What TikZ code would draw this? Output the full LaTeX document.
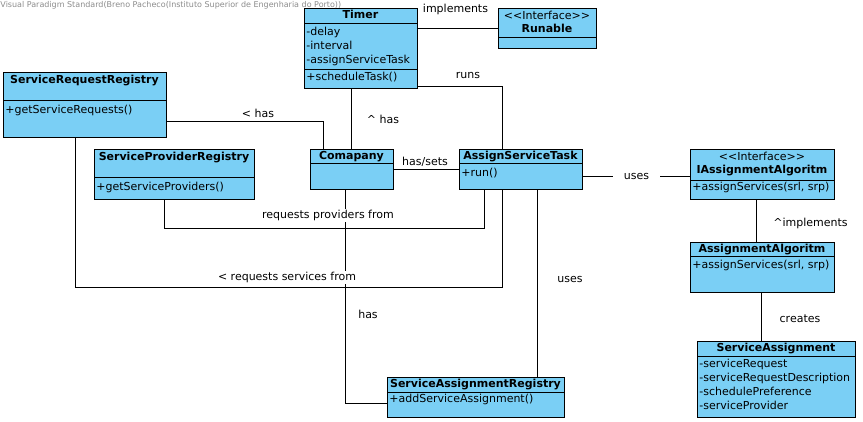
\documentclass[tikz,border=0pt]{standalone}
\usepackage{fontspec}
\setmainfont{DejaVu Sans}
\usepackage{tikz}

\definecolor{classblue}{HTML}{7ACFF5}

\tikzset{
  umlclass/.style={draw, fill=classblue, inner sep=0pt, anchor=north west, line width=0.9pt},
  cname/.style={font=\fontsize{11}{13}\selectfont\bfseries, inner sep=0pt, text height=8pt, text depth=2.5pt},
  member/.style={font=\fontsize{11}{13}\selectfont, inner sep=0pt, anchor=west, text height=8pt, text depth=2.5pt},
  stereo/.style={font=\fontsize{11}{13}\selectfont, inner sep=0pt, text height=8pt, text depth=2.5pt},
  lbl/.style={font=\fontsize{11}{13}\selectfont, inner sep=1pt, text height=8pt, text depth=2.5pt},
}

\begin{document}
\begin{tikzpicture}[x=1pt, y=-1pt, line width=0.9pt]
\useasboundingbox (0,0) rectangle (863,421);

% classes
\node[umlclass, minimum width=113pt, minimum height=80pt] (timer) at (304,8) {};
\node[umlclass, minimum width=98pt, minimum height=40pt] (runable) at (498,8) {};
\node[umlclass, minimum width=163pt, minimum height=65pt] (srr) at (3,72) {};
\node[umlclass, minimum width=160pt, minimum height=50pt] (spr) at (94,149) {};
\node[umlclass, minimum width=83pt, minimum height=40pt] (comp) at (310,149) {};
\node[umlclass, minimum width=123pt, minimum height=40pt] (ast) at (459,149) {};
\node[umlclass, minimum width=144pt, minimum height=50pt] (iaa) at (690,149) {};
\node[umlclass, minimum width=144pt, minimum height=50pt] (aa) at (690,242) {};
\node[umlclass, minimum width=158pt, minimum height=76pt] (sa) at (697,341) {};
\node[umlclass, minimum width=177pt, minimum height=40pt] (sar) at (387,377) {};

% compartments
\draw ([yshift=-15pt]timer.north west) -- ([yshift=-15pt]timer.north east);
\draw ([yshift=-61pt]timer.north west) -- ([yshift=-61pt]timer.north east);
\draw ([yshift=-29pt]runable.north west) -- ([yshift=-29pt]runable.north east);
\draw ([yshift=-28pt]srr.north west) -- ([yshift=-28pt]srr.north east);
\draw ([yshift=-28pt]spr.north west) -- ([yshift=-28pt]spr.north east);
\draw ([yshift=-14pt]comp.north west) -- ([yshift=-14pt]comp.north east);
\draw ([yshift=-14pt]ast.north west) -- ([yshift=-14pt]ast.north east);
\draw ([yshift=-31pt]iaa.north west) -- ([yshift=-31pt]iaa.north east);
\draw ([yshift=-14pt]aa.north west) -- ([yshift=-14pt]aa.north east);
\draw ([yshift=-15pt]sa.north west) -- ([yshift=-15pt]sa.north east);
\draw ([yshift=-15pt]sar.north west) -- ([yshift=-15pt]sar.north east);

% class texts
\node[cname] at (360.5,16) {Timer};
\node[member] at (306,32.5) {-delay};
\node[member] at (306,46.5) {-interval};
\node[member] at (306,60.5) {-assignServiceTask};
\node[member] at (306,77.5) {+scheduleTask()};

\node[stereo] at (547,16.5) {<\kern0pt<Interface>\kern0pt>};
\node[cname] at (547,29.5) {Runable};

\node[cname] at (84.5,80.5) {ServiceRequestRegistry};
\node[member] at (5,110.5) {+getServiceRequests()};

\node[cname] at (174,157.5) {ServiceProviderRegistry};
\node[member] at (96,187.5) {+getServiceProviders()};

\node[cname] at (351.5,156.5) {Comapany};

\node[cname] at (520.5,156.5) {AssignServiceTask};
\node[member] at (461,173.5) {+run()};

\node[stereo] at (762,157.5) {<\kern0pt<Interface>\kern0pt>};
\node[cname] at (762,171) {IAssignmentAlgoritm};
\node[member] at (692,187.5) {+assignServices(srl, srp)};

\node[cname] at (762,249.5) {AssignmentAlgoritm};
\node[member] at (692,266) {+assignServices(srl, srp)};

\node[cname] at (776,349) {ServiceAssignment};
\node[member] at (699,365) {-serviceRequest};
\node[member] at (699,378.5) {-serviceRequestDescription};
\node[member] at (699,392.5) {-schedulePreference};
\node[member] at (699,406.5) {-serviceProvider};

\node[cname] at (475.5,384.5) {ServiceAssignmentRegistry};
\node[member] at (389,399.5) {+addServiceAssignment()};

% associations
\draw (timer.east |- runable.west) -- (runable.west);
\draw ([yshift=2pt]timer.south east) -| ([xshift=43pt]ast.north west);
\draw ([xshift=41pt]comp.north west) coordinate (ch) -- (ch |- timer.south);
\draw ([yshift=16pt]srr.south east) -| ([xshift=13pt]comp.north west);
\draw (comp.east) -- (ast.west);
\draw ([xshift=70pt]spr.south west) -- ++(0,29) -| ([xshift=25pt]ast.south west);
\draw ([xshift=72pt]srr.south west) -- ++(0,150) -| ([xshift=43pt]ast.south west);
\draw ([xshift=35pt]comp.south west) |- ([yshift=-26pt]sar.north west);
\draw ([xshift=78pt]ast.south west) coordinate (au) -- (au |- sar.north);
\draw ([yshift=13pt]ast.south east) coordinate (iu) -- (iu -| iaa.west)
  node[midway, lbl, fill=white, inner xsep=11pt] {uses};
\draw ([xshift=66pt]iaa.south west) coordinate (im) -- (im |- aa.north);
\draw ([xshift=71pt]aa.south west) coordinate (cr) -- (cr |- sa.north);

% association labels
\node[lbl] at (455.5,9.5) {implements};
\node[lbl] at (468,76) {runs};
\node[lbl] at (383,121) {\textasciicircum{} has};
\node[lbl] at (258,114.5) {< has};
\node[lbl] at (425,162.5) {has/sets};
\node[lbl, fill=white] at (328,215.5) {requests providers from};
\node[lbl, fill=white] at (287,277.5) {< requests services from};
\node[lbl] at (368,315.5) {has};
\node[lbl] at (570,279.5) {uses};
\node[lbl] at (810.5,223.5) {\textasciicircum implements};
\node[lbl] at (800,319.5) {creates};

% watermark
\node[anchor=west, inner sep=0pt, text=black!45, font=\fontsize{8}{9}\selectfont] (wm) at (0,5)
  {Visual Paradigm Standard(Breno Pacheco(Instituto Superior de Engenharia do Porto))};

\end{tikzpicture}
\end{document}
